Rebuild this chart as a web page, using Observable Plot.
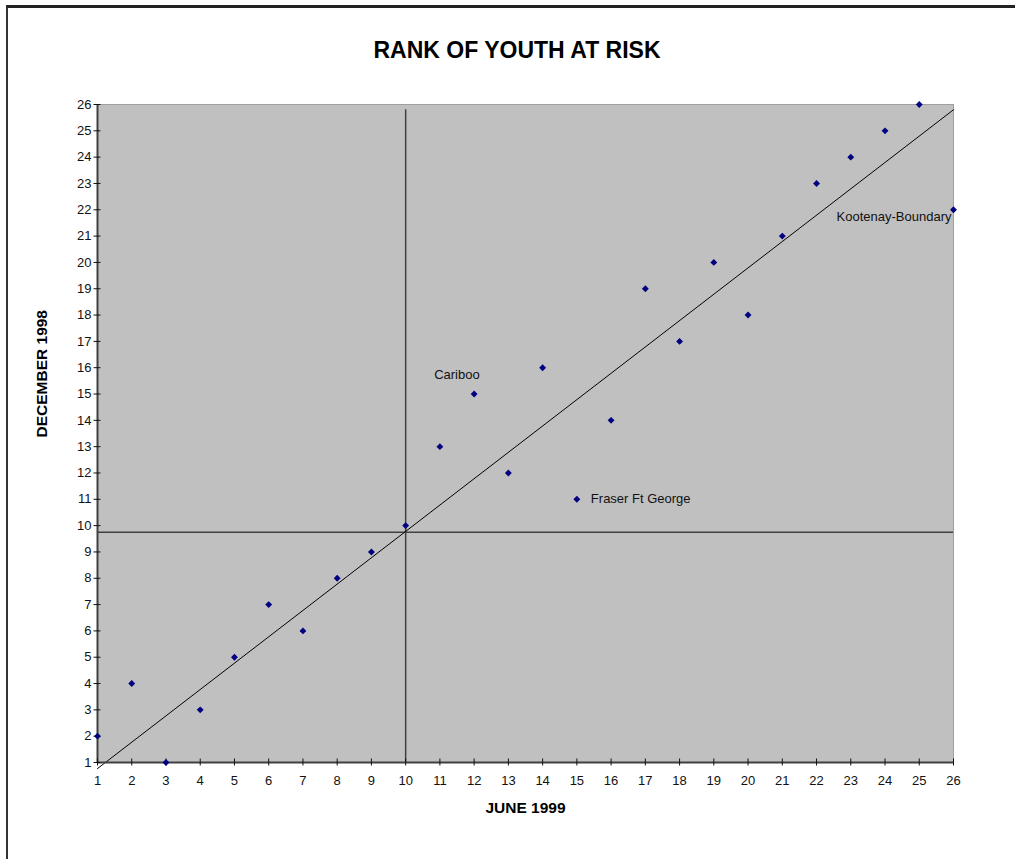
<!DOCTYPE html>
<html>
<head>
<meta charset="utf-8">
<script src="https://cdn.jsdelivr.net/npm/d3@7"></script>
<script src="https://cdn.jsdelivr.net/npm/@observablehq/plot@0.6"></script>
<style>
  html, body { margin: 0; padding: 0; background: #fff; }
  #wrap { position: relative; width: 1015px; height: 859px; overflow: hidden; }
  #border { position: absolute; top: 5px; left: 6px; width: 1030px; height: 900px;
            border-top: 3px solid #222; border-left: 2px solid #333; box-sizing: border-box; }
  #chart { position: absolute; top: 0; left: 0; }
</style>
</head>
<body>
<div id="wrap">
  <div id="border"></div>
  <div id="chart"></div>
</div>
<script>
// Data: rank in June 1999 (x) vs rank in December 1998 (y)
const juneRank = [1, 2, 3, 4, 5, 6, 7, 8, 9, 10, 11, 12, 13, 14, 15, 16, 17, 18, 19, 20, 21, 22, 23, 24, 25, 26];
const decRank  = [2, 4, 1, 3, 5, 7, 6, 8, 9, 10, 13, 15, 12, 16, 11, 14, 19, 17, 20, 18, 21, 23, 24, 25, 26, 22];

// Trend line end points
const trendJune = [1, 26];
const trendDec  = [0.77, 25.8];

// Cross-hair lines
const crossJune = 10;
const crossDec  = 9.75;
const crossTop  = 25.8;

// Named points
const labelNames = ["Cariboo", "Fraser Ft George", "Kootenay-Boundary"];
const labelJune  = [12, 15, 26];
const labelDec   = [15, 11, 22];

// Tick labels
const xTicks = [1, 2, 3, 4, 5, 6, 7, 8, 9, 10, 11, 12, 13, 14, 15, 16, 17, 18, 19, 20, 21, 22, 23, 24, 25, 26];
const yTicks = [1, 2, 3, 4, 5, 6, 7, 8, 9, 10, 11, 12, 13, 14, 15, 16, 17, 18, 19, 20, 21, 22, 23, 24, 25, 26];

const titleText = "RANK OF YOUTH AT RISK";
const xTitle = "JUNE 1999";
const yTitle = "DECEMBER 1998";

const points = juneRank.map((x, i) => ({x, y: decRank[i]}));
const trend = trendJune.map((x, i) => ({x, y: trendDec[i]}));
const labels = labelNames.map((name, i) => ({name, x: labelJune[i], y: labelDec[i]}));

const labelStyle = [
  {textAnchor: "start", dx: -40, dy: -19},
  {textAnchor: "start", dx: 14, dy: 0},
  {textAnchor: "end", dx: -2, dy: 7}
];

const plot = Plot.plot({
  width: 1015,
  height: 859,
  marginLeft: 97,
  marginRight: 62,
  marginTop: 104,
  marginBottom: 97,
  style: {fontFamily: "'Liberation Sans', Arial, sans-serif", background: "transparent", color: "#111"},
  x: {domain: [1, 26]},
  y: {domain: [1, 26]},
  marks: [
    Plot.frame({fill: "#c0c0c0", stroke: "#a0a0a0"}),
    Plot.ruleY([crossDec], {x1: 1, x2: 26, stroke: "#404040", strokeWidth: 1.5}),
    Plot.ruleX([crossJune], {y1: 1, y2: crossTop, stroke: "#404040", strokeWidth: 1.5}),
    Plot.line(trend, {x: "x", y: "y", stroke: "#000", strokeWidth: 1}),
    Plot.ruleY([1], {stroke: "#404040", strokeWidth: 2}),
    Plot.ruleX([1], {stroke: "#404040", strokeWidth: 2}),
    Plot.axisX(xTicks, {tickSize: 7, dy: -3.5, tickFormat: () => "", label: null, stroke: "#111"}),
    Plot.axisX(xTicks, {tickSize: 0, tickPadding: 13, label: null, fontSize: 13, fill: "#111"}),
    Plot.axisY(yTicks, {tickSize: 7, dx: 3.5, tickFormat: () => "", label: null, stroke: "#111"}),
    Plot.axisY(yTicks, {tickSize: 0, tickPadding: 6, label: null, fontSize: 13, fill: "#111"}),
    Plot.dot(points, {x: "x", y: "y", symbol: "diamond2", fill: "#000080", stroke: null, r: 3.1}),
    ...labels.map((d, i) => Plot.text([d], {x: "x", y: "y", text: "name", fontSize: 13, fill: "#111", ...labelStyle[i]})),
    Plot.text([titleText], {text: d => d, frameAnchor: "top", lineAnchor: "middle", dy: -54, dx: -8.5, fontSize: 23, fontWeight: "bold", fill: "#000"}),
    Plot.text([xTitle], {text: d => d, frameAnchor: "bottom", lineAnchor: "middle", dy: 46, fontSize: 15.5, fontWeight: "bold", fill: "#000"}),
    Plot.text([yTitle], {text: d => d, frameAnchor: "left", lineAnchor: "middle", dx: -55.5, dy: 4, rotate: -90, fontSize: 15.5, fontWeight: "bold", fill: "#000"})
  ]
});
document.getElementById("chart").appendChild(plot);
</script>
</body>
</html>
